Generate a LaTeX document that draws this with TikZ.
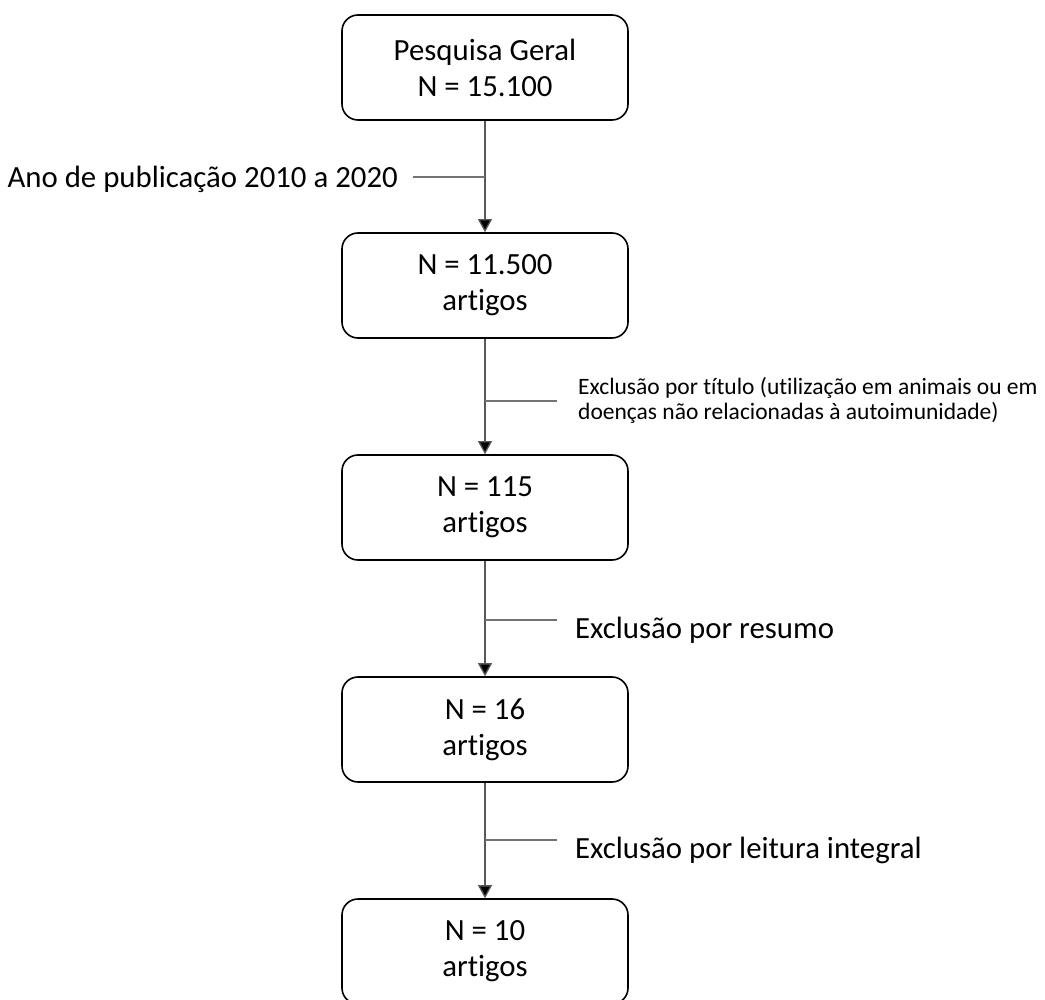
\documentclass[tikz,border=0pt]{standalone}
\usepackage{fontspec}
\setmainfont{Carlito}[Ligatures=NoCommon]
\usetikzlibrary{arrows.meta}
\begin{document}
\begin{tikzpicture}[x=1pt,y=1pt,
  stage/.style={draw=black, line width=1.6pt, rounded corners=16pt, minimum width=286pt, minimum height=105pt, align=center, inner sep=0pt, font=\fontsize{30.8}{36}\selectfont},
  flow/.style={draw=black!65, line width=1.3pt, -{Triangle[width=14pt,length=13pt,fill=black]}},
  side/.style={draw=black!55, line width=1.2pt},
  biglabel/.style={anchor=west, inner sep=0pt, font=\fontsize{30.8}{36}\selectfont},
  smalllabel/.style={anchor=west, inner sep=0pt, align=left, font=\fontsize{23.5}{25}\selectfont}
]
\useasboundingbox (0,0) rectangle (1045,-1000);
\node[stage] (b1) at (485,-67.5) {Pesquisa Geral\\N = 15.100};
\node[stage] (b2) at (485,-285.5) {N = 11.500\\artigos};
\node[stage] (b3) at (485,-507.5) {N = 115\\artigos};
\node[stage] (b4) at (485,-729.5) {N = 16\\artigos};
\node[stage] (b5) at (485,-951.5) {N = 10\\artigos};
\draw[flow] (b1) -- (b2);
\draw[flow] (b2) -- (b3);
\draw[flow] (b3) -- (b4);
\draw[flow] (b4) -- (b5);
\coordinate (j1) at (485,-177);
\coordinate (j2) at (485,-401);
\coordinate (j3) at (485,-620);
\coordinate (j4) at (485,-840);
\node[biglabel, anchor=east] (l1) at (398,-179) {Ano de publicação 2010 a 2020};
\node[smalllabel] (l2) at (578,-400) {Exclusão por título (utilização em animais ou em\\doenças não relacionadas à autoimunidade)};
\node[biglabel] (l3) at (575,-630) {Exclusão por resumo};
\node[biglabel] (l4) at (575,-850) {Exclusão por leitura integral};
\draw[side] (j1) -- (413,-177);
\draw[side] (j2) -- (557,-401);
\draw[side] (j3) -- (557,-620);
\draw[side] (j4) -- (557,-840);
\end{tikzpicture}
\end{document}
